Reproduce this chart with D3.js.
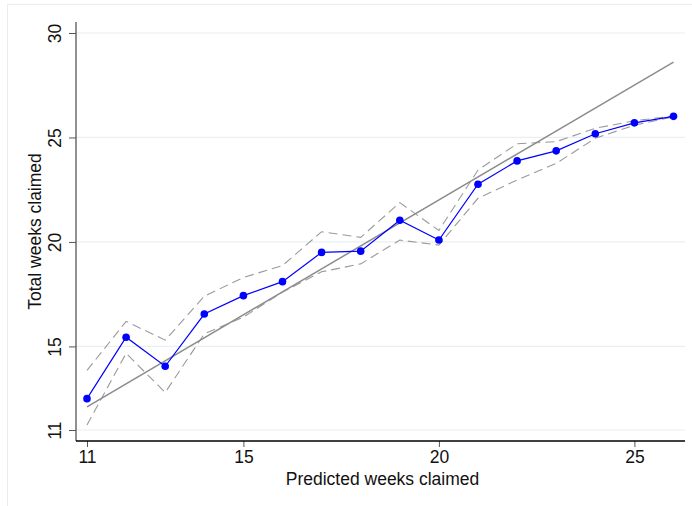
<!DOCTYPE html>
<html>
<head>
<meta charset="utf-8">
<script src="https://cdn.jsdelivr.net/npm/d3@7"></script>
<style>
  body { margin: 0; background: #fff; }
  svg { display: block; font-family: "Liberation Sans", Arial, sans-serif; }
</style>
</head>
<body>
<svg id="chart"></svg>
<script>
var width = 692, height = 506;

// predicted weeks (bins)
var predicted = [11, 12, 13, 14, 15, 16, 17, 18, 19, 20, 21, 22, 23, 24, 25, 26];
// mean total weeks claimed
var actual = [12.5, 15.44, 14.05, 16.55, 17.43, 18.1, 19.5, 19.56, 21.04, 20.09, 22.76, 23.88, 24.36, 25.18, 25.7, 26.01];
// confidence band
var upper = [13.85, 16.2, 15.3, 17.4, 18.3, 18.87, 20.49, 20.22, 21.88, 20.55, 23.44, 24.7, 24.8, 25.44, 25.8, 26.03];
var lower = [11.24, 14.67, 12.8, 15.6, 16.4, 17.6, 18.57, 18.95, 20.09, 19.85, 22.09, 22.96, 23.76, 24.96, 25.59, 25.99];
// fitted line endpoints
var fitX = [11, 26];
var fitY = [12.11, 28.61];

var xTicks = [11, 15, 20, 25];
var yTicks = [11, 15, 20, 25, 30];

var margin = {top: 22, right: 7, bottom: 65, left: 76};

var svg = d3.select("#chart")
    .attr("width", width)
    .attr("height", height);

// outer frame
svg.append("rect")
    .attr("x", 7.5).attr("y", 4.5)
    .attr("width", 700).attr("height", 520)
    .attr("fill", "none")
    .attr("stroke", "#e6eef0");

var x = d3.scaleLinear().domain([11, 26]).range([87, 673.5]);
var y = d3.scaleLinear().domain([11, 30]).range([430, 33]);

var plotRight = 685, plotBottom = 441;

// gridlines
svg.append("g")
  .selectAll("line")
  .data(yTicks)
  .enter().append("line")
    .attr("x1", margin.left).attr("x2", plotRight)
    .attr("y1", function(d) { return y(d); })
    .attr("y2", function(d) { return y(d); })
    .attr("stroke", "#e8f0f2")
    .attr("stroke-width", 1.2);

// y axis
var yAxis = svg.append("g")
    .attr("transform", "translate(" + margin.left + ",0)")
    .call(d3.axisLeft(y).tickValues(yTicks).tickSize(7).tickPadding(8).tickSizeOuter(0));
yAxis.select(".domain").remove();
yAxis.append("line")
    .attr("x1", 0).attr("x2", 0)
    .attr("y1", margin.top).attr("y2", plotBottom)
    .attr("stroke", "#555").attr("stroke-width", 1.3);
yAxis.selectAll(".tick line").attr("stroke", "#555");
yAxis.selectAll(".tick text")
    .attr("fill", "#111")
    .style("font-size", "17.5px")
    .attr("text-anchor", "middle")
    .attr("transform", "translate(-21,0) rotate(-90)")
    .attr("x", 0)
    .attr("dy", "0.35em");

// x axis
var xAxis = svg.append("g")
    .attr("transform", "translate(0," + plotBottom + ")")
    .call(d3.axisBottom(x).tickValues(xTicks).tickSize(6).tickPadding(4).tickSizeOuter(0));
xAxis.select(".domain").remove();
xAxis.append("line")
    .attr("x1", margin.left).attr("x2", plotRight)
    .attr("y1", 0).attr("y2", 0)
    .attr("stroke", "#000").attr("stroke-width", 1.3);
xAxis.selectAll(".tick line").attr("stroke", "#555");
xAxis.selectAll(".tick text")
    .attr("fill", "#111")
    .style("font-size", "17.5px");

// axis titles
svg.append("text")
    .attr("x", (margin.left + plotRight) / 2 + 2)
    .attr("y", 484.5)
    .attr("text-anchor", "middle")
    .style("font-size", "17.5px")
    .attr("fill", "#111")
    .text("Predicted weeks claimed");

svg.append("text")
    .attr("transform", "translate(41," + ((margin.top + plotBottom) / 2) + ") rotate(-90)")
    .attr("text-anchor", "middle")
    .style("font-size", "17.5px")
    .attr("fill", "#111")
    .text("Total weeks claimed");

function series(vals) {
  return predicted.map(function(p, i) { return [p, vals[i]]; });
}

var line = d3.line()
    .x(function(d) { return x(d[0]); })
    .y(function(d) { return y(d[1]); });

// dashed band
[upper, lower].forEach(function(b) {
  svg.append("path")
    .attr("d", line(series(b)))
    .attr("fill", "none")
    .attr("stroke", "#9a9a9a")
    .attr("stroke-width", 1.1)
    .attr("stroke-dasharray", "9,5");
});

// fitted line
svg.append("path")
    .attr("d", line(fitX.map(function(v, i) { return [v, fitY[i]]; })))
    .attr("fill", "none")
    .attr("stroke", "#8c8c8c")
    .attr("stroke-width", 1.5);

// actual
svg.append("path")
    .attr("d", line(series(actual)))
    .attr("fill", "none")
    .attr("stroke", "#0000ff")
    .attr("stroke-width", 1.2);

svg.append("g")
  .selectAll("circle")
  .data(series(actual))
  .enter().append("circle")
    .attr("cx", function(d) { return x(d[0]); })
    .attr("cy", function(d) { return y(d[1]); })
    .attr("r", 3.8)
    .attr("fill", "#0000ff");
</script>
</body>
</html>
